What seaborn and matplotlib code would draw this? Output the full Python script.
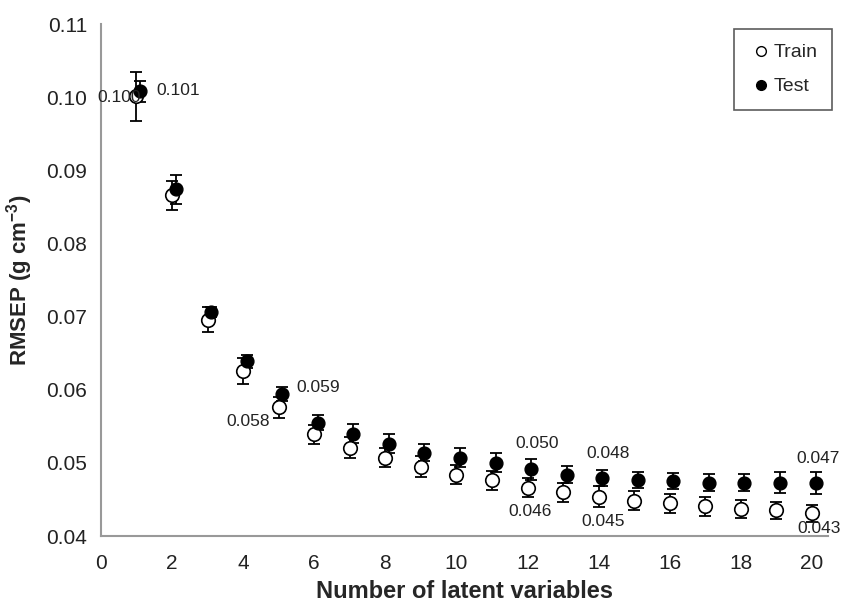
import numpy as np
import pandas as pd
import seaborn as sns
import matplotlib
matplotlib.use('Agg')
import matplotlib.pyplot as plt
from matplotlib.lines import Line2D

# 데이터
n_lv = list(range(1, 21))
train_rmsep = [0.1001, 0.0866, 0.0696, 0.0626, 0.0576, 0.0539, 0.0521, 0.0507, 0.0495, 0.0484,
               0.0476, 0.0466, 0.0460, 0.0454, 0.0448, 0.0445, 0.0441, 0.0437, 0.0435, 0.0431]
train_err = [0.0033, 0.0020, 0.0017, 0.0018, 0.0014, 0.0013, 0.0014, 0.0013, 0.0014, 0.0013,
             0.0013, 0.0013, 0.0013, 0.0014, 0.0013, 0.0013, 0.0013, 0.0012, 0.0012, 0.0012]
test_rmsep = [0.1008, 0.0874, 0.0706, 0.0639, 0.0594, 0.0555, 0.0540, 0.0526, 0.0514, 0.0507,
              0.0500, 0.0491, 0.0484, 0.0479, 0.0477, 0.0475, 0.0473, 0.0473, 0.0473, 0.0472]
test_err = [0.0014, 0.0020, 0.0007, 0.0009, 0.0010, 0.0010, 0.0013, 0.0013, 0.0012, 0.0013,
            0.0013, 0.0014, 0.0012, 0.0011, 0.0011, 0.0011, 0.0012, 0.0012, 0.0014, 0.0015]
test_shift = 0.1

# 주석 라벨: (series, n, text)
notes = [('train', 1, '0.100'), ('test', 1, '0.101'),
         ('train', 5, '0.058'), ('test', 5, '0.059'),
         ('train', 12, '0.046'), ('test', 12, '0.050'),
         ('train', 14, '0.045'), ('test', 14, '0.048'),
         ('train', 20, '0.043'), ('test', 20, '0.047')]

df_train = pd.DataFrame({'lv': n_lv, 'rmsep': train_rmsep, 'err': train_err})
df_test = pd.DataFrame({'lv': np.array(n_lv) + test_shift, 'rmsep': test_rmsep, 'err': test_err})

sns.set_style('white')
plt.rcParams['font.family'] = ['Liberation Sans', 'DejaVu Sans']
plt.rcParams['mathtext.fontset'] = 'custom'
plt.rcParams['mathtext.rm'] = 'Liberation Sans'
plt.rcParams['mathtext.bf'] = 'Liberation Sans:bold'

fig = plt.figure(figsize=(8.41, 6.02), dpi=100)
ax = fig.add_axes([0.120, 0.1096, 0.8645, 0.8505])

ax.errorbar(df_train.lv, df_train.rmsep, yerr=df_train.err, fmt='none',
            ecolor='black', elinewidth=1.3, capsize=4.5, capthick=1.3, zorder=2)
ax.errorbar(df_test.lv, df_test.rmsep, yerr=df_test.err, fmt='none',
            ecolor='black', elinewidth=1.3, capsize=4.5, capthick=1.3, zorder=2)
sns.scatterplot(data=df_train, x='lv', y='rmsep', ax=ax, marker='o', s=95,
                facecolor='white', edgecolor='black', linewidth=1.2, zorder=3)
sns.scatterplot(data=df_test, x='lv', y='rmsep', ax=ax, marker='o', s=85,
                color='black', edgecolor='black', linewidth=1.0, zorder=4)

# 값 라벨 위치 (dx, dy, ha)
offsets = {('train', 1): (0.12, -0.0001, 'right'),
           ('test', 1): (0.45, 0.0001, 'left'),
           ('train', 5): (-0.25, -0.0019, 'right'),
           ('test', 5): (0.4, 0.0009, 'left'),
           ('train', 12): (-0.55, -0.0032, 'left'),
           ('test', 12): (-0.45, 0.0035, 'left'),
           ('train', 14): (-0.5, -0.0034, 'left'),
           ('test', 14): (-0.45, 0.0034, 'left'),
           ('train', 20): (-0.42, -0.0021, 'left'),
           ('test', 20): (-0.55, 0.0034, 'left')}
for series, n, txt in notes:
    if series == 'train':
        x0, y0 = n, train_rmsep[n - 1]
    else:
        x0, y0 = n + test_shift, test_rmsep[n - 1]
    dx, dy, ha = offsets[(series, n)]
    ax.text(x0 + dx, y0 + dy, txt, ha=ha, va='center', fontsize=12.5, color='#222222', zorder=5)

ax.set_xlim(0, 20.45)
ax.set_ylim(0.04, 0.11)
ax.set_xticks(range(0, 21, 2))
ax.set_yticks(np.arange(0.04, 0.111, 0.01))
ax.set_yticklabels(['%.2f' % v for v in np.arange(0.04, 0.111, 0.01)])

for side in ['top', 'right']:
    ax.spines[side].set_visible(False)
for side in ['left', 'bottom']:
    ax.spines[side].set_color('#999999')
    ax.spines[side].set_linewidth(1.5)
ax.tick_params(axis='both', direction='out', length=5, width=1.2, color='#999999',
               labelsize=15, labelcolor='#222222', pad=5)
ax.tick_params(axis='x', pad=8)

ax.set_xlabel('Number of latent variables', fontsize=17, fontweight='bold', labelpad=5)
ax.set_ylabel(r'RMSEP (g cm$^{\mathbf{-3}}$)', fontsize=16, fontweight='bold', labelpad=8)

handles = [Line2D([], [], marker='o', ls='none', markerfacecolor='white', markeredgecolor='black',
                  markersize=7, label='Train'),
           Line2D([], [], marker='o', ls='none', markerfacecolor='black', markeredgecolor='black',
                  markersize=7, label='Test')]
leg = ax.legend(handles=handles, loc='upper right', bbox_to_anchor=(1.0055, 0.990),
                fontsize=14, frameon=True, fancybox=False, handletextpad=0.05,
                labelspacing=0.85, borderpad=0.75, handlelength=1.2, borderaxespad=0)
leg.get_frame().set_edgecolor('#333333')
leg.get_frame().set_linewidth(1.2)

fig.savefig('out.png', dpi=100)
